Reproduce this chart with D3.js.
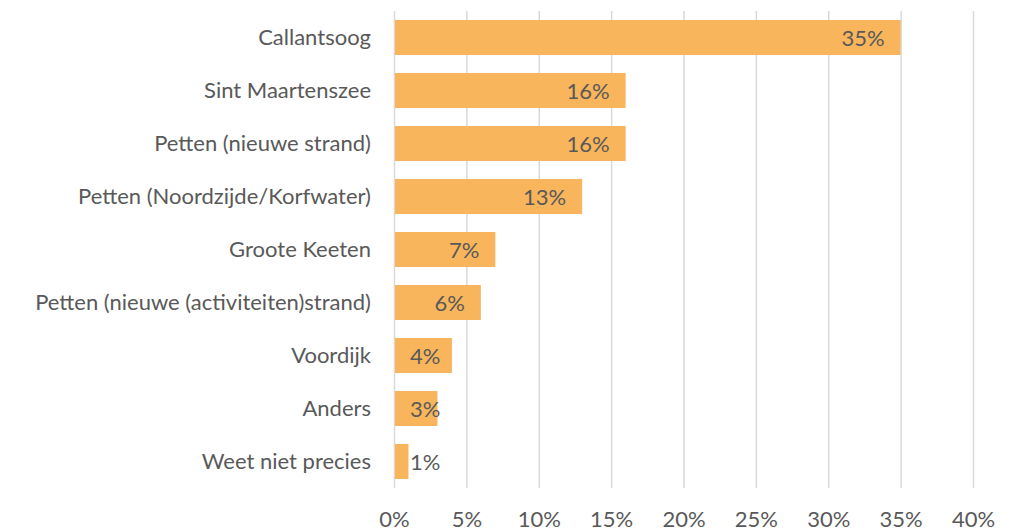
<!DOCTYPE html>
<html>
<head>
<meta charset="utf-8">
<script src="https://cdn.jsdelivr.net/npm/d3@7"></script>
<style>
  html, body { margin: 0; padding: 0; background: #fff; }
  svg text { font-family: Lato, "Open Sans", sans-serif; fill: #595959; }
</style>
</head>
<body>
<svg id="chart" width="1017" height="531"></svg>
<script>
const categories = [
  "Callantsoog",
  "Sint Maartenszee",
  "Petten (nieuwe strand)",
  "Petten (Noordzijde/Korfwater)",
  "Groote Keeten",
  "Petten (nieuwe (activiteiten)strand)",
  "Voordijk",
  "Anders",
  "Weet niet precies"
];
const values = [35, 16, 16, 13, 7, 6, 4, 3, 1];
const tickValues = [0, 5, 10, 15, 20, 25, 30, 35, 40];

const fontSize = 22;
const svg = d3.select("#chart");
const margin = { left: 394, right: 44, top: 11, bottom: 43 };
const W = 1017, H = 531;

const x = d3.scaleLinear().domain([0, 40]).range([margin.left, W - margin.right]);
const y = d3.scaleBand().domain(categories).range([margin.top, H - margin.bottom])
  .paddingInner(0.34).paddingOuter(0.17);

// gridlines
svg.append("g").selectAll("line").data(tickValues).join("line")
  .attr("x1", d => x(d) + 0.5).attr("x2", d => x(d) + 0.5)
  .attr("y1", y.range()[0]).attr("y2", y.range()[1])
  .attr("stroke", "#d9d9d9").attr("stroke-width", 1.5);

// x axis tick labels
const xAxis = d3.axisBottom(x).tickValues(tickValues).tickFormat(d => d + "%").tickSize(0).tickPadding(0);
const gx = svg.append("g").attr("transform", `translate(0,${y.range()[1]})`).call(xAxis);
gx.select(".domain").remove();
gx.selectAll("text").attr("font-size", fontSize).attr("dy", null).attr("y", 39)
  .style("font-family", "Lato, 'Open Sans', sans-serif");

// y axis labels
const yAxis = d3.axisLeft(y).tickSize(0).tickPadding(23);
const gy = svg.append("g").attr("transform", `translate(${x(0)},0)`).call(yAxis);
gy.select(".domain").remove();
gy.selectAll("text").attr("font-size", fontSize)
  .style("font-family", "Lato, 'Open Sans', sans-serif");

// bars
svg.append("g").selectAll("rect").data(values).join("rect")
  .attr("x", x(0) + 1)
  .attr("y", (d, i) => y(categories[i]))
  .attr("width", d => x(d) - x(0) - 1)
  .attr("height", y.bandwidth())
  .attr("fill", "#F8B55C");

// value labels
const labels = svg.append("g").selectAll("text").data(values).join("text")
  .attr("font-size", fontSize)
  .attr("text-anchor", "end")
  .attr("dominant-baseline", "central")
  .attr("y", (d, i) => y(categories[i]) + y.bandwidth() / 2)
  .text(d => d + "%");
labels.each(function(d) {
  const w = this.getComputedTextLength();
  const right = Math.max(x(d) - 16, x(0) + 16 + w);
  d3.select(this).attr("x", right);
});
</script>
</body>
</html>
